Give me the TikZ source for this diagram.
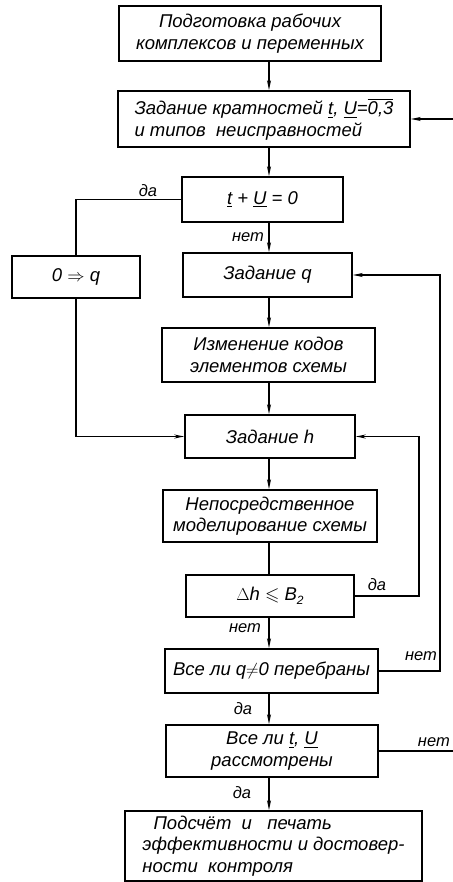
\documentclass[tikz,border=0pt]{standalone}
\usepackage{fontspec}
\usepackage{amssymb}
\setmainfont{Liberation Sans}
\usetikzlibrary{arrows.meta}
\begin{document}
\begin{tikzpicture}[x=1pt,y=-1pt,
  box/.style={draw, line width=1.6pt, inner sep=0pt, font=\fontsize{18.5}{21.5}\selectfont\itshape},
  lbl/.style={font=\fontsize{16.5}{19}\selectfont\itshape, inner sep=0pt},
  conn/.style={line width=1.25pt},
  arr/.style={conn, -{Stealth[length=10pt,width=4pt]}}]
\useasboundingbox (0,0) rectangle (452,882);
\coordinate (ax) at (269,0);
\coordinate (rx1) at (440,0);
\coordinate (rx2) at (419,0);
\coordinate (rx3) at (458,0);

\node[box, minimum width=262pt, minimum height=55pt, align=center] (b1) at (250,33.5)
  {Подготовка рабочих\\комплексов и переменных};
\node[box, minimum width=292pt, minimum height=56pt, align=left] (b2) at (264,119)
  {Задание кратностей \underline{t}, \underline{U}=$\overline{\hbox{0,3}}$\\и типов\ \ неисправностей};
\node[box, minimum width=161pt, minimum height=45pt] (b3) at (262.5,199.5)
  {\underline{t} + \underline{U} = 0};
\node[box, minimum width=128pt, minimum height=42pt] (b0q) at (76,277)
  {0 $\Rightarrow$ q};
\node[box, minimum width=169pt, minimum height=44pt] (bq) at (267.5,275)
  {Задание q};
\node[box, minimum width=213pt, minimum height=54pt, align=center] (bchg) at (268.5,355)
  {Изменение кодов\\элементов схемы};
\node[box, minimum width=170pt, minimum height=43pt] (bh) at (270,436.5)
  {Задание h};
\node[box, minimum width=214pt, minimum height=52pt, align=center] (bsim) at (270,516)
  {Непосредственное\\моделирование схемы};
\node[box, minimum width=168pt, minimum height=42pt] (bdh) at (270,596)
  {$\Delta$h $\leqslant$ B\raisebox{-0.35ex}{\fontsize{12}{13}\selectfont 2}};
\node[box, minimum width=213pt, minimum height=44pt] (ball) at (271.5,671)
  {Все ли q$\neq$0 перебраны};
\node[box, minimum width=212pt, minimum height=52pt, align=center] (btu) at (272,751)
  {Все ли \underline{t}, \underline{U}\\рассмотрены};
\node[box, minimum width=297pt, minimum height=70pt, align=left] (bend) at (273.5,846)
  {\hspace{0.6em}Подсчёт\ \ и\ \ \ печать\\эффективности и достовер-\\ности\ \ контроля};

% main axis
\draw[arr] (b1.south -| ax) -- (b2.north -| ax);
\draw[arr] (b2.south -| ax) -- (b3.north -| ax);
\draw[arr] (b3.south -| ax) -- (bq.north -| ax);
\draw[arr] (bq.south -| ax) -- (bchg.north -| ax);
\draw[arr] (bchg.south -| ax) -- (bh.north -| ax);
\draw[arr] (bh.south -| ax) -- (bsim.north -| ax);
\draw[conn] (bsim.south -| ax) -- (bdh.north -| ax);
\draw[arr] (bdh.south -| ax) -- (ball.north -| ax);
\draw[arr] (ball.south -| ax) -- (btu.north -| ax);
\draw[arr] (btu.south -| ax) -- (bend.north -| ax);

% left branch
\draw[conn] (b3.west) -| (b0q.north);
\draw[arr] (b0q.south) |- (bh.west);

% right loops
\draw[arr] (ball.east) -- (ball.east -| rx1) |- (bq.east);
\draw[arr] (bdh.east) -- (bdh.east -| rx2) |- (bh.east);
\draw[arr] (btu.east) -- (btu.east -| rx3) |- (b2.east);

% labels
\node[lbl] (l1) at (148,191) {да};
\node[lbl] (l2) at (248,237) {нет};
\node[lbl] (l3) at (377,585) {да};
\node[lbl] (l4) at (245,628) {нет};
\node[lbl] (l5) at (421,656) {нет};
\node[lbl] (l6) at (243,709) {да};
\node[lbl] (l7) at (242,793) {да};
\node[lbl, anchor=east] (l8) at (450,742) {нет};
\end{tikzpicture}
\end{document}
